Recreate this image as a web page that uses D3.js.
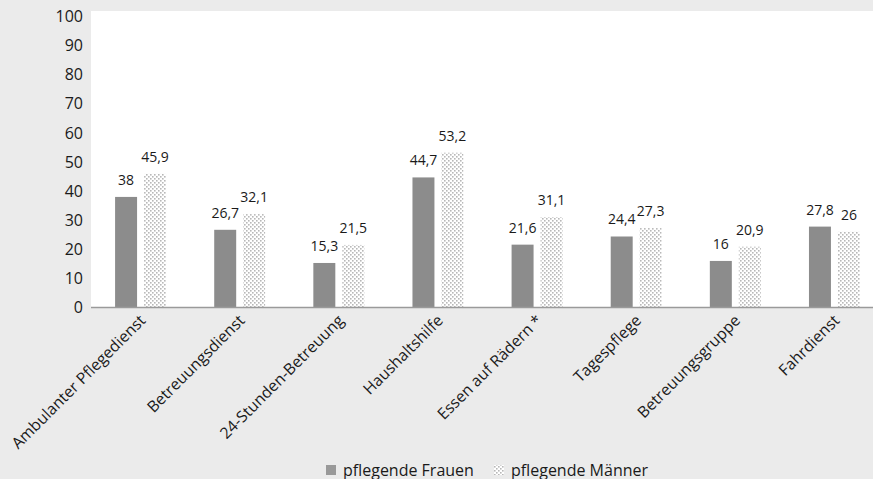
<!DOCTYPE html>
<html><head><meta charset="utf-8">
<script src="https://cdn.jsdelivr.net/npm/d3@7"></script>
<style>
html,body{margin:0;padding:0;background:#ebebeb;}
text{font-family:"Open Sans",sans-serif;fill:#1a1a1a;}
</style></head>
<body>
<svg id="c" width="873" height="479"></svg>
<script>
const categories = ["Ambulanter Pflegedienst","Betreuungsdienst","24-Stunden-Betreuung","Haushaltshilfe","Essen auf Rädern *","Tagespflege","Betreuungsgruppe","Fahrdienst"];
const seriesNames = ["pflegende Frauen","pflegende Männer"];
const frauen = [38, 26.7, 15.3, 44.7, 21.6, 24.4, 16, 27.8];
const maenner = [45.9, 32.1, 21.5, 53.2, 31.1, 27.3, 20.9, 26];
const yTicks = [0,10,20,30,40,50,60,70,80,90,100];

const svg = d3.select("#c");
const W = 873, H = 479;
const plot = {left:91, top:11, right:873, bottom:307.5};

const defs = svg.append("defs");
const pat = defs.append("pattern").attr("id","dots").attr("patternUnits","userSpaceOnUse")
  .attr("width",4).attr("height",4);
pat.append("rect").attr("width",4).attr("height",4).attr("fill","#ffffff");
pat.append("rect").attr("x",0).attr("y",0).attr("width",1.6).attr("height",1.6).attr("fill","#b8b8b8");
pat.append("rect").attr("x",2).attr("y",2).attr("width",1.6).attr("height",1.6).attr("fill","#b8b8b8");

svg.append("rect").attr("width",W).attr("height",H).attr("fill","#ebebeb");
svg.append("rect").attr("x",plot.left).attr("y",plot.top)
  .attr("width",plot.right-plot.left).attr("height",plot.bottom-plot.top).attr("fill","#ffffff");

const y = d3.scaleLinear().domain([0,100]).range([307.5,16.5]);
const x = d3.scaleBand().domain(categories).range([91,884]).paddingInner(0.486).paddingOuter(0.243);
const x1 = d3.scaleBand().domain(seriesNames).range([0,x.bandwidth()]).paddingInner(0.2414);

// y axis labels
const yAxis = d3.axisLeft(y).tickValues(yTicks).tickSize(0).tickPadding(0).tickFormat(d3.format("d"));
const gy = svg.append("g").attr("transform","translate(83,0)").call(yAxis);
gy.select(".domain").remove();
gy.selectAll("text").style("font-size","16px").attr("fill","#1a1a1a").attr("font-family","Open Sans");

const data = [frauen, maenner];
const fills = ["#8c8c8c","url(#dots)"];
seriesNames.forEach((s,si)=>{
  const g = svg.append("g");
  g.selectAll("rect").data(categories).enter().append("rect")
    .attr("x",c=>x(c)+x1(s))
    .attr("y",(c,i)=>y(data[si][i]))
    .attr("width",x1.bandwidth())
    .attr("height",(c,i)=>y(0)-y(data[si][i]))
    .attr("fill",fills[si]);
  g.selectAll("text").data(categories).enter().append("text")
    .attr("x",c=>x(c)+x1(s)+x1.bandwidth()/2)
    .attr("y",(c,i)=>y(data[si][i])-12)
    .attr("text-anchor","middle")
    .style("font-size","14px")
    .text((c,i)=>String(data[si][i]).replace(".",","));
});

// x axis
const xAxis = d3.axisBottom(x).tickSize(0).tickPadding(0);
const gx = svg.append("g").attr("transform",`translate(0,${y(0)})`).call(xAxis);
gx.select(".domain").remove();
svg.append("line").attr("x1",plot.left).attr("x2",W).attr("y1",y(0)).attr("y2",y(0))
  .attr("stroke","#9a9a9a").attr("stroke-width",1.5);
gx.selectAll(".tick text")
  .attr("text-anchor","end")
  .attr("dy",null)
  .attr("y",0)
  .attr("transform","translate(6,14) rotate(-45)")
  .style("font-size","15.75px").attr("fill","#1a1a1a").attr("font-family","Open Sans");

// legend
const lg = svg.append("g");
const legX = [326, 494];
seriesNames.forEach((s,i)=>{
  lg.append("rect").attr("x",legX[i]).attr("y",465).attr("width",10).attr("height",10)
    .attr("fill", i===0 ? "#999999" : "url(#dots)");
  lg.append("text").attr("x",legX[i]+17).attr("y",475.5).style("font-size","16px").text(s);
});
</script>
</body></html>
